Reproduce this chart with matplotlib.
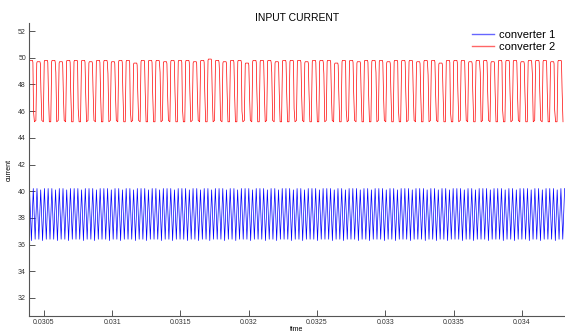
import numpy as np
import matplotlib.pyplot as plt

plt.rcParams['font.family'] = ['Liberation Sans', 'DejaVu Sans']

# visible time window and sampling of the two waveforms
t_start = 0.03039
t_end = 0.034315
blue_period = 2.72e-5
red_period = 5.45e-5

# converter 1: peak / trough of every switching cycle
blue_peaks = [
    40.1, 40.2, 40.2, 40.1, 40.2, 40.2, 40.2, 40.1, 40.2, 40.2, 40.1, 40.2, 40.2, 40.2, 40.1, 40.2, 40.2,
    40.2, 40.1, 40.2, 40.2, 40.2, 40.1, 40.2, 40.2, 40.1, 40.2, 40.2, 40.1, 40.2, 40.2, 40.2, 40.1,
    40.2, 40.2, 40.1, 40.2, 40.2, 40.2, 40.1, 40.2, 40.2, 40.2, 40.1, 40.2, 40.2, 40.1, 40.2, 40.2,
    40.1, 40.2, 40.2, 40.2, 40.1, 40.2, 40.2, 40.1, 40.2, 40.2, 40.2, 40.1, 40.2, 40.2, 40.2, 40.1,
    40.2, 40.2, 40.1, 40.2, 40.2, 40.2, 40.1, 40.2, 40.2, 40.1, 40.2, 40.2, 40.2, 40.1, 40.2, 40.2,
    40.2, 40.1, 40.2, 40.2, 40.1, 40.2, 40.2, 40.2, 40.1, 40.2, 40.2, 40.1, 40.2, 40.2, 40.2, 40.1,
    40.2, 40.2, 40.1, 40.2, 40.2, 40.2, 40.1, 40.2, 40.2, 40.2, 40.1, 40.2, 40.2, 40.1, 40.2, 40.2,
    40.1, 40.2, 40.2, 40.2, 40.1, 40.2, 40.2, 40.1, 40.2, 40.2, 40.2, 40.1, 40.2, 40.2, 40.2, 40.1,
    40.2, 40.2, 40.1, 40.2, 40.2, 40.2, 40.1, 40.2, 40.2, 40.1, 40.2, 40.2, 40.2, 40.1, 40.2, 40.2,
]
blue_troughs = [
    36.4, 36.3, 36.4, 36.4, 36.3, 36.4, 36.4, 36.4, 36.3, 36.4, 36.4, 36.3, 36.4, 36.4, 36.4, 36.3, 36.4,
    36.4, 36.3, 36.4, 36.4, 36.4, 36.3, 36.4, 36.4, 36.3, 36.4, 36.4, 36.4, 36.3, 36.4, 36.4, 36.3,
    36.4, 36.4, 36.4, 36.3, 36.4, 36.4, 36.3, 36.4, 36.4, 36.4, 36.3, 36.4, 36.4, 36.3, 36.4, 36.4,
    36.3, 36.4, 36.4, 36.4, 36.3, 36.4, 36.4, 36.3, 36.4, 36.4, 36.4, 36.3, 36.4, 36.4, 36.4, 36.3,
    36.4, 36.4, 36.3, 36.4, 36.4, 36.4, 36.3, 36.4, 36.4, 36.3, 36.4, 36.4, 36.4, 36.3, 36.4, 36.4,
    36.4, 36.3, 36.4, 36.4, 36.3, 36.4, 36.4, 36.4, 36.3, 36.4, 36.4, 36.3, 36.4, 36.4, 36.4, 36.3,
    36.4, 36.4, 36.3, 36.4, 36.4, 36.4, 36.3, 36.4, 36.4, 36.4, 36.3, 36.4, 36.4, 36.3, 36.4, 36.4,
    36.3, 36.4, 36.4, 36.4, 36.3, 36.4, 36.4, 36.3, 36.4, 36.4, 36.4, 36.3, 36.4, 36.4, 36.4, 36.3,
    36.4, 36.4, 36.3, 36.4, 36.4, 36.4, 36.3, 36.4, 36.4, 36.3, 36.4, 36.4, 36.4, 36.3, 36.4, 36.4,
]

# converter 2: high plateau, low level and the level half-way down each fall
red_highs = [
    49.8, 49.7, 49.8, 49.8, 49.7, 49.8, 49.8, 49.8, 49.7, 49.8, 49.8, 49.7,
    49.8, 49.8, 49.6, 49.8, 49.8, 49.8, 49.7, 49.8, 49.8, 49.8, 49.7, 49.8,
    49.9, 49.8, 49.7, 49.8, 49.8, 49.6, 49.8, 49.8, 49.8, 49.7, 49.8, 49.8,
    49.8, 49.7, 49.8, 49.8, 49.8, 49.6, 49.8, 49.8, 49.7, 49.8, 49.8, 49.8,
    49.7, 49.8, 49.8, 49.8, 49.7, 49.8, 49.8, 49.6, 49.8, 49.8, 49.8, 49.7,
    49.8, 49.8, 49.7, 49.8, 49.8, 49.8, 49.7, 49.8, 49.8, 49.8, 49.7, 49.8,
]
red_lows = [
    45.2, 45.3, 45.2, 45.2, 45.3, 45.2, 45.2, 45.2, 45.3, 45.2, 45.2, 45.3,
    45.2, 45.2, 45.3, 45.2, 45.2, 45.2, 45.3, 45.2, 45.2, 45.2, 45.3, 45.2,
    45.2, 45.3, 45.2, 45.2, 45.2, 45.3, 45.2, 45.2, 45.3, 45.2, 45.2, 45.2,
    45.3, 45.2, 45.2, 45.2, 45.3, 45.2, 45.2, 45.3, 45.2, 45.2, 45.2, 45.3,
    45.2, 45.2, 45.2, 45.3, 45.2, 45.2, 45.3, 45.2, 45.2, 45.2, 45.3, 45.2,
    45.2, 45.3, 45.2, 45.2, 45.2, 45.3, 45.2, 45.2, 45.3, 45.2, 45.2, 45.2,
]
red_knees = [
    46.0, 47.5, 47.5, 48.9, 47.5, 47.5, 46.2, 47.5, 47.5, 47.5, 48.8, 47.5,
    47.5, 46.1, 47.5, 47.5, 47.5, 48.9, 47.5, 47.5, 46.3, 47.5, 47.5, 47.5,
    47.5, 48.7, 47.5, 47.5, 46.0, 47.5, 47.5, 47.5, 48.9, 47.5, 47.5, 46.2,
    47.5, 47.5, 47.5, 48.8, 47.5, 47.5, 46.1, 47.5, 47.5, 47.5, 48.9, 47.5,
    47.5, 46.3, 47.5, 47.5, 47.5, 48.7, 47.5, 47.5, 46.0, 47.5, 47.5, 47.5,
    48.9, 47.5, 47.5, 46.2, 47.5, 47.5, 47.5, 48.8, 47.5, 47.5, 46.1, 47.5,
]

# build vertex lists
bt, bv = [], []
for i, (pk, tr) in enumerate(zip(blue_peaks, blue_troughs)):
    t0 = t_start - 0.3 * blue_period + i * blue_period
    bt += [t0, t0 + 0.5 * blue_period]
    bv += [tr, pk]

rt, rv = [], []
for i, (hi, lo, kn) in enumerate(zip(red_highs, red_lows, red_knees)):
    t0 = t_start - 0.05 * red_period + i * red_period
    rt += [t0, t0 + 0.12 * red_period, t0 + 0.17 * red_period, t0 + 0.55 * red_period,
           t0 + 0.6 * red_period, t0 + 0.68 * red_period, t0 + 0.8 * red_period]
    rv += [lo, hi - 0.1, hi, hi, hi - 0.15, kn, lo]

fig = plt.figure(figsize=(5.65, 3.34), dpi=100)
ax = fig.add_axes([0.051, 0.054, 0.949, 0.877])

ax.plot(bt, bv, color='#0000ff', lw=0.5, label='converter 1')
ax.plot(rt, rv, color='#ff0000', lw=0.5, label='converter 2')

ax.set_xlim(t_start, t_end)
ax.set_ylim(30.65, 52.6)
ax.set_xticks([0.0305, 0.031, 0.0315, 0.032, 0.0325, 0.033, 0.0335, 0.034])
ax.set_xticklabels(['0.0305', '0.031', '0.0315', '0.032', '0.0325', '0.033', '0.0335', '0.034'])
ax.set_yticks(range(32, 53, 2))

for s in ['top', 'right']:
    ax.spines[s].set_visible(False)
for s in ['left', 'bottom']:
    ax.spines[s].set_color('#555555')
    ax.spines[s].set_linewidth(0.8)
ax.tick_params(direction='in', length=4, width=0.7, color='#555555',
               labelsize=5, labelcolor='#333333', pad=2)

ax.set_title('INPUT CURRENT', fontsize=7.5, pad=0)
ax.set_xlabel('time', fontsize=5, labelpad=0.5)
ax.set_ylabel('current', fontsize=5, labelpad=4)

leg = ax.legend(loc='upper right', bbox_to_anchor=(1.0, 1.01), frameon=False, fontsize=8,
                handlelength=2.0, handletextpad=0.4, labelspacing=0.15)
for h in leg.get_lines():
    h.set_linewidth(1.0)
    h.set_alpha(0.6)

fig.savefig('out.png', dpi=100)
